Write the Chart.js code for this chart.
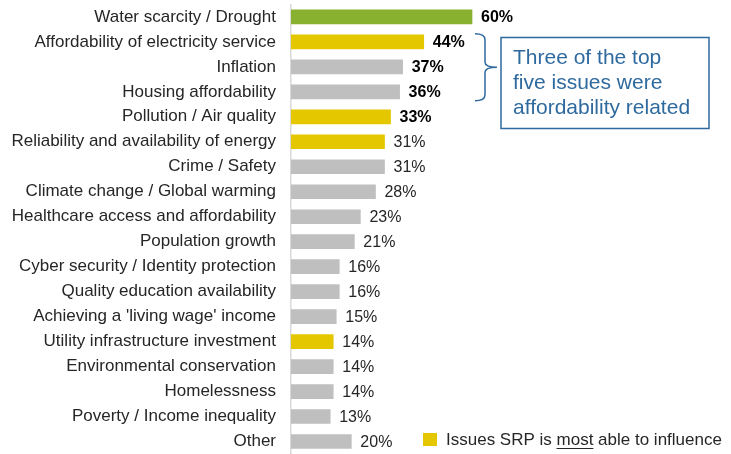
<!DOCTYPE html>
<html>
<head>
<meta charset="utf-8">
<script src="https://cdn.jsdelivr.net/npm/chart.js@4/dist/chart.umd.min.js"></script>
<style>
    html, body { margin: 0; padding: 0; background: #ffffff; }
    #wrap { width: 731px; height: 454px; }
</style>
</head>
<body>
<div id="wrap"><canvas id="myChart" width="731" height="454"></canvas></div>
<script>
"use strict";

const issues = [
    'Water scarcity / Drought',
    'Affordability of electricity service',
    'Inflation',
    'Housing affordability',
    'Pollution / Air quality',
    'Reliability and availability of energy',
    'Crime / Safety',
    'Climate change / Global warming',
    'Healthcare access and affordability',
    'Population growth',
    'Cyber security / Identity protection',
    'Quality education availability',
    "Achieving a 'living wage' income",
    'Utility infrastructure investment',
    'Environmental conservation',
    'Homelessness',
    'Poverty / Income inequality',
    'Other',
];
const percents = [60, 44, 37, 36, 33, 31, 31, 28, 23, 21, 16, 16, 15, 14, 14, 14, 13, 20];
// 'top' = first issue, 'srp' = issues SRP is most able to influence
const groups = ['top', 'srp', '', '', 'srp', 'srp', '', '', '', '', '', '', '', 'srp', '', '', '', ''];
const topCount = 5;

const calloutLines = ['Three of the top', 'five issues were', 'affordability related'];
const legendText = ['Issues SRP is ', 'most', ' able to influence'];

const FONT = '"Liberation Sans", Arial, sans-serif';
const groupColors = { top: '#88B12F', srp: '#E5C700', '': '#BFBFBF' };
const blue = '#2F6A9F';


const barColors = groups.map(g => groupColors[g]);

const extrasPlugin = {
    id: 'extras',
    afterDatasetsDraw(chart) {
        const ctx = chart.ctx;
        const meta = chart.getDatasetMeta(0);

        // value labels
        ctx.save();
        ctx.textBaseline = 'middle';
        ctx.textAlign = 'left';
        meta.data.forEach((bar, i) => {
            const bold = i < topCount;
            ctx.font = (bold ? 'bold ' : '') + '16px ' + FONT;
            ctx.fillStyle = bold ? '#000000' : '#262626';
            ctx.fillText(percents[i] + '%', bar.x + 9, bar.y + 1);
        });
        ctx.restore();

        // bracket next to rows 2..4
        const yTop = meta.data[1].y - 8;
        const yBot = meta.data[3].y + 9;
        const yMid = (yTop + yBot) / 2;
        ctx.save();
        ctx.strokeStyle = blue;
        ctx.lineWidth = 1.5;
        ctx.beginPath();
        ctx.moveTo(475, yTop);
        ctx.quadraticCurveTo(485, yTop, 485, yTop + 6);
        ctx.lineTo(485, yMid - 5);
        ctx.quadraticCurveTo(485, yMid, 497, yMid);
        ctx.quadraticCurveTo(485, yMid, 485, yMid + 5);
        ctx.lineTo(485, yBot - 6);
        ctx.quadraticCurveTo(485, yBot, 475, yBot);
        ctx.stroke();

        // callout box
        ctx.strokeRect(501, 37.5, 208, 91);
        ctx.fillStyle = blue;
        ctx.font = '21px ' + FONT;
        ctx.textBaseline = 'middle';
        calloutLines.forEach((line, i) => {
            ctx.fillText(line, 513, 58 + i * 25);
        });
        ctx.restore();

        // legend
        ctx.save();
        ctx.fillStyle = groupColors.srp;
        ctx.fillRect(423, 433, 14, 13);
        ctx.font = '17px ' + FONT;
        ctx.textBaseline = 'middle';
        ctx.fillStyle = '#262626';
        let x = 446;
        legendText.forEach((part, i) => {
            ctx.fillText(part, x, 440);
            const w = ctx.measureText(part).width;
            if (i === 1) {
                ctx.fillRect(x, 448, w, 1);
            }
            x += w;
        });
        ctx.restore();
    }
};

const config = {
    type: 'bar',
    data: {
        labels: issues,
        datasets: [{
            data: percents,
            backgroundColor: barColors,
            barThickness: 14,
        }],
    },
    options: {
        indexAxis: 'y',
        responsive: false,
        animation: false,
        layout: {
            padding: { left: 0, right: 138.3, top: 4.4, bottom: -2.5 },
        },
        plugins: {
            legend: { display: false },
            tooltip: { enabled: false },
        },
        scales: {
            x: {
                display: false,
                min: 0,
                max: 100,
            },
            y: {
                grid: { display: false, drawTicks: false },
                border: { display: true, color: '#D9D9D9', width: 1.5 },
                ticks: {
                    color: '#262626',
                    padding: 15,
                    font: { family: FONT, size: 17 },
                    autoSkip: false,
                },
                afterFit(scale) {
                    scale.width = 291;
                    scale.paddingTop = 0;
                    scale.paddingBottom = 0;
                },
            },
        },
    },
    plugins: [extrasPlugin],
};

new Chart(document.getElementById('myChart'), config);
</script>
</body>
</html>
